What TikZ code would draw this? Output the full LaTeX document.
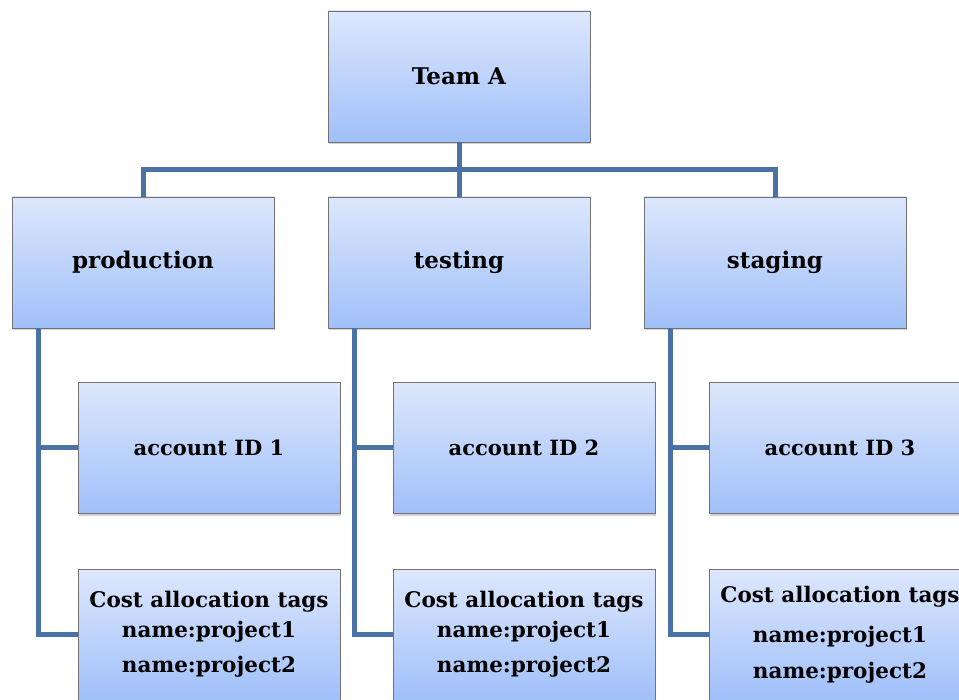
\documentclass[tikz,border=0pt]{standalone}
\usepackage{fontspec}
\setmainfont{DejaVu Serif}
\usetikzlibrary{shadows}
\begin{document}
\begin{tikzpicture}
[
x=1pt, y=-1pt,
Box/.style={rectangle, draw=black!55, line width=0.8pt, top color={rgb,255:red,221;green,231;blue,252}, bottom color={rgb,255:red,160;green,192;blue,250}, minimum width=262pt, minimum height=131pt, inner sep=0pt, align=center, drop shadow={shadow xshift=1pt, shadow yshift=-2pt, opacity=0.35}},
Headbox/.style={Box, font=\fontsize{23}{27}\selectfont\bfseries},
Accountbox/.style={Box, font=\fontsize{21}{25}\selectfont\bfseries},
Tagbox/.style={Box, font=\fontsize{21.5}{30}\selectfont\bfseries},
Connector/.style={-, draw={rgb,255:red,74;green,114;blue,166}, line width=5pt}
]
\useasboundingbox (0,0) rectangle (959,700);

% top level
\node[Headbox] (team) at (459,76.5) {Team A};

% environments
\node[Headbox] (production) at (143,262.5) {production};
\node[Headbox] (testing)    at (459,262.5) {testing};
\node[Headbox] (staging)    at (775,262.5) {staging};

% accounts
\node[Accountbox] (account1) at (209,448) {account ID 1};
\node[Accountbox] (account2) at (524,448) {account ID 2};
\node[Accountbox] (account3) at (840,448) {account ID 3};

% tags
\node[Tagbox] (tags1) at (209,634.5) {Cost allocation tags\\name:project1\\[5pt]name:project2};
\node[Tagbox] (tags2) at (524,634.5) {Cost allocation tags\\name:project1\\[5pt]name:project2};
\node[Tagbox] (tags3) at (840,634.5) {Cost allocation tags\\[10pt]name:project1\\[6pt]name:project2};

\coordinate (bus) at (459,170);
\draw[Connector] (team.south) -- (testing.north);
\draw[Connector] (production.north) |- (bus) -| (staging.north);

\draw[Connector] ([xshift=27pt]production.south west) |- (account1.west);
\draw[Connector] ([xshift=27pt]production.south west) |- (tags1.west);
\draw[Connector] ([xshift=27pt]testing.south west) |- (account2.west);
\draw[Connector] ([xshift=27pt]testing.south west) |- (tags2.west);
\draw[Connector] ([xshift=27pt]staging.south west) |- (account3.west);
\draw[Connector] ([xshift=27pt]staging.south west) |- (tags3.west);
\end{tikzpicture}
\end{document}
